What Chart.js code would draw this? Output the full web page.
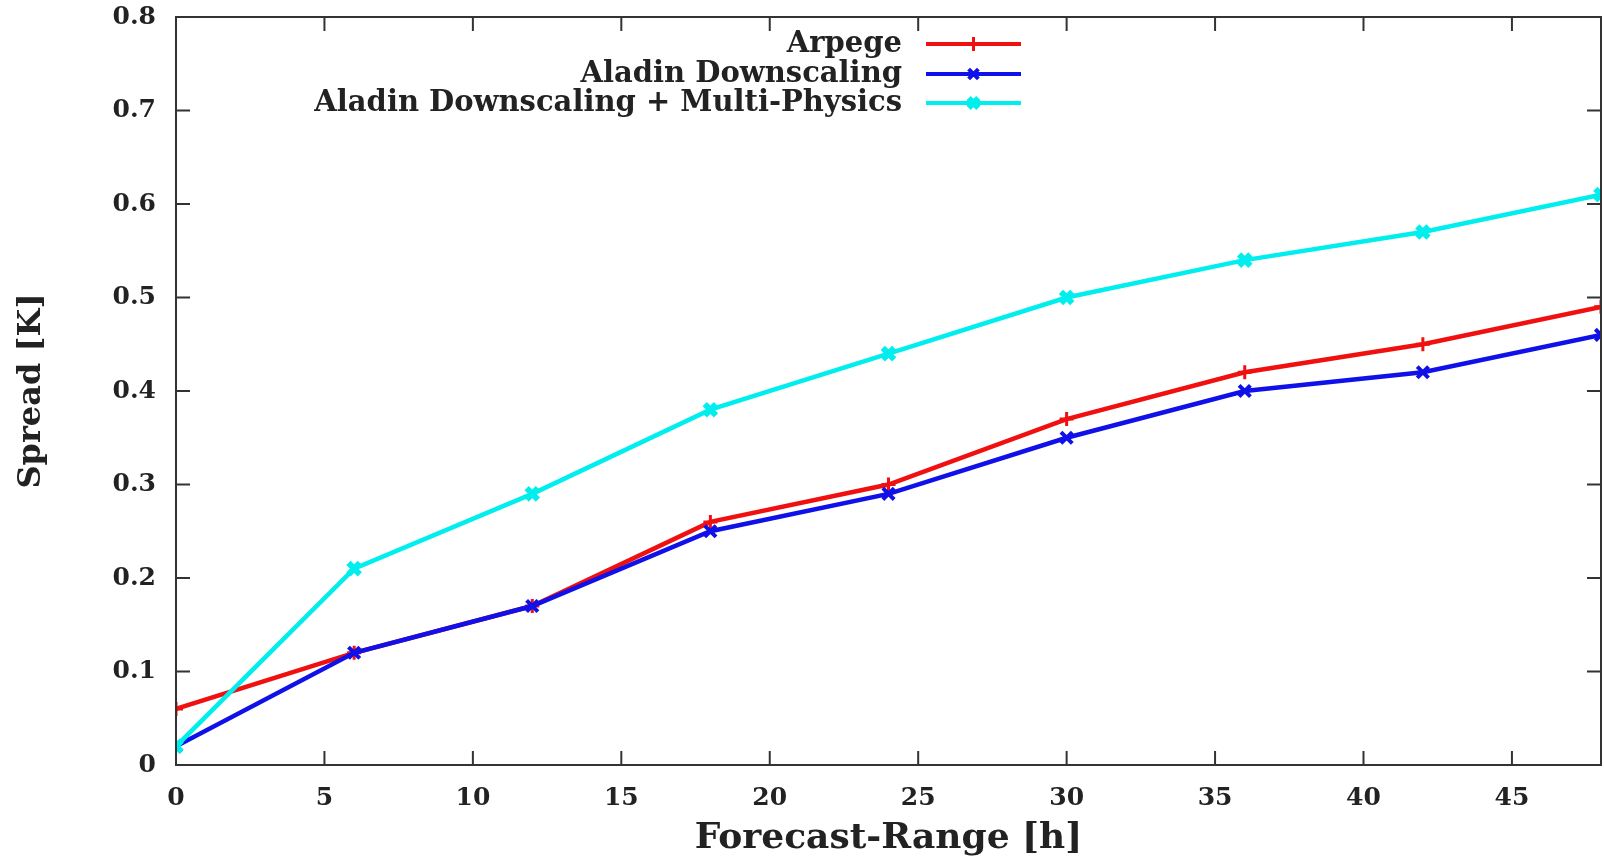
<!DOCTYPE html>
<html>
<head>
<meta charset="utf-8">
<script src="https://cdn.jsdelivr.net/npm/chart.js@4.4.1/dist/chart.umd.min.js"></script>
<style>
  html, body { margin: 0; padding: 0; background: #fff; overflow: hidden; }
  #spread { display: block; }
</style>
</head>
<body>
<canvas id="spread" width="1604" height="860"></canvas>
<script>
// forecast ranges (h) and spread values (K)
var hours = [0, 6, 12, 18, 24, 30, 36, 42, 48];
var arpege = [0.06, 0.12, 0.17, 0.26, 0.30, 0.37, 0.42, 0.45, 0.49];
var aladin = [0.02, 0.12, 0.17, 0.25, 0.29, 0.35, 0.40, 0.42, 0.46];
var aladinMP = [0.02, 0.21, 0.29, 0.38, 0.44, 0.50, 0.54, 0.57, 0.61];
var seriesNames = ['Arpege', 'Aladin Downscaling', 'Aladin Downscaling + Multi-Physics'];
var xTicks = [0, 5, 10, 15, 20, 25, 30, 35, 40, 45];
var yTicks = [0, 0.1, 0.2, 0.3, 0.4, 0.5, 0.6, 0.7, 0.8];

var FONT = '"DejaVu Serif", serif';
var INK = '#222';

function pts(vals) {
	return hours.map(function (h, i) { return { x: h, y: vals[i] }; });
}

// gnuplot-like frame with inward ticks on all four sides
var framePlugin = {
	id: 'frame',
	afterDatasetsDraw: function (chart) {
		var c = chart.ctx, a = chart.chartArea;
		var xs = chart.scales.x, ys = chart.scales.y;
		var len = 14;
		c.save();
		c.strokeStyle = '#333';
		c.lineWidth = 2;
		c.beginPath();
		xTicks.forEach(function (v) {
			var px = xs.getPixelForValue(v);
			c.moveTo(px, a.bottom); c.lineTo(px, a.bottom - len);
			c.moveTo(px, a.top); c.lineTo(px, a.top + len);
		});
		yTicks.forEach(function (v) {
			var py = ys.getPixelForValue(v);
			c.moveTo(a.left, py); c.lineTo(a.left + len, py);
			c.moveTo(a.right, py); c.lineTo(a.right - len, py);
		});
		c.stroke();
		c.strokeRect(a.left, a.top, a.right - a.left, a.bottom - a.top);
		c.restore();
	}
};

// key in the top of the plot: right aligned text, sample line on the right
var keyPlugin = {
	id: 'key',
	afterDraw: function (chart) {
		var c = chart.ctx;
		var textRight = 902, lineL = 926, lineR = 1021;
		var rowY = [44, 74, 103];
		c.save();
		c.font = 'bold 29px ' + FONT;
		c.textAlign = 'right';
		c.textBaseline = 'middle';
		chart.data.datasets.forEach(function (ds, i) {
			var y = rowY[i];
			c.fillStyle = INK;
			c.fillText(ds.label, textRight, y);
			c.strokeStyle = ds.borderColor;
			c.lineWidth = 4;
			c.beginPath();
			c.moveTo(lineL, y); c.lineTo(lineR, y);
			c.stroke();
			var mx = (lineL + lineR) / 2, r = 7;
			c.lineWidth = ds.pointBorderWidth;
			c.beginPath();
			if (ds.pointStyle === 'cross') {
				c.moveTo(mx, y - r); c.lineTo(mx, y + r);
			} else {
				c.moveTo(mx - r * 0.7, y - r * 0.7); c.lineTo(mx + r * 0.7, y + r * 0.7);
				c.moveTo(mx - r * 0.7, y + r * 0.7); c.lineTo(mx + r * 0.7, y - r * 0.7);
			}
			c.stroke();
		});
		c.restore();
	}
};

var ctx = document.getElementById('spread').getContext('2d');
var chart = new Chart(ctx, {
	type: 'line',
	data: {
		datasets: [{
			label: seriesNames[0],
			data: pts(arpege),
			borderColor: '#f01010',
			backgroundColor: '#f01010',
			pointStyle: 'cross',
			pointRadius: 7,
			pointBorderWidth: 3,
			order: 2
		}, {
			label: seriesNames[1],
			data: pts(aladin),
			borderColor: '#1010e8',
			backgroundColor: '#1010e8',
			pointStyle: 'crossRot',
			pointRadius: 8,
			pointBorderWidth: 4,
			order: 1
		}, {
			label: seriesNames[2],
			data: pts(aladinMP),
			borderColor: '#00eeee',
			backgroundColor: '#00eeee',
			pointStyle: 'crossRot',
			pointRadius: 8,
			pointBorderWidth: 6,
			order: 0
		}]
	},
	options: {
		responsive: false,
		animation: false,
		layout: {
			autoPadding: false,
			padding: { top: 17, right: 3, bottom: 0, left: 0 }
		},
		elements: {
			line: { borderWidth: 4.5, tension: 0 }
		},
		plugins: {
			legend: { display: false },
			tooltip: { enabled: false }
		},
		scales: {
			x: {
				type: 'linear',
				min: 0,
				max: 48,
				grid: { display: false, drawTicks: false },
				border: { display: false },
				ticks: {
					stepSize: 5,
					includeBounds: false,
					padding: 18,
					color: INK,
					font: { family: FONT, size: 25, weight: 'bold' }
				},
				title: {
					display: true,
					text: 'Forecast-Range [h]',
					color: INK,
					padding: { top: 0, bottom: 0 },
					font: { family: FONT, size: 36, weight: 'bold' }
				},
				afterFit: function (s) {
					s.height = 95;
					s.paddingLeft = 0;
					s.paddingRight = 0;
				}
			},
			y: {
				min: 0,
				max: 0.8,
				grid: { display: false, drawTicks: false },
				border: { display: false },
				ticks: {
					stepSize: 0.1,
					padding: 20,
					color: INK,
					font: { family: FONT, size: 25, weight: 'bold' },
					callback: function (v) { return v === 0 ? '0' : v.toFixed(1); }
				},
				title: {
					display: true,
					text: 'Spread [K]',
					color: INK,
					padding: { top: 12, bottom: 0 },
					font: { family: FONT, size: 32, weight: 'bold' }
				},
				afterFit: function (s) {
					s.width = 176;
					s.paddingTop = 0;
					s.paddingBottom = 0;
				}
			}
		}
	},
	plugins: [framePlugin, keyPlugin]
});
</script>
</body>
</html>
